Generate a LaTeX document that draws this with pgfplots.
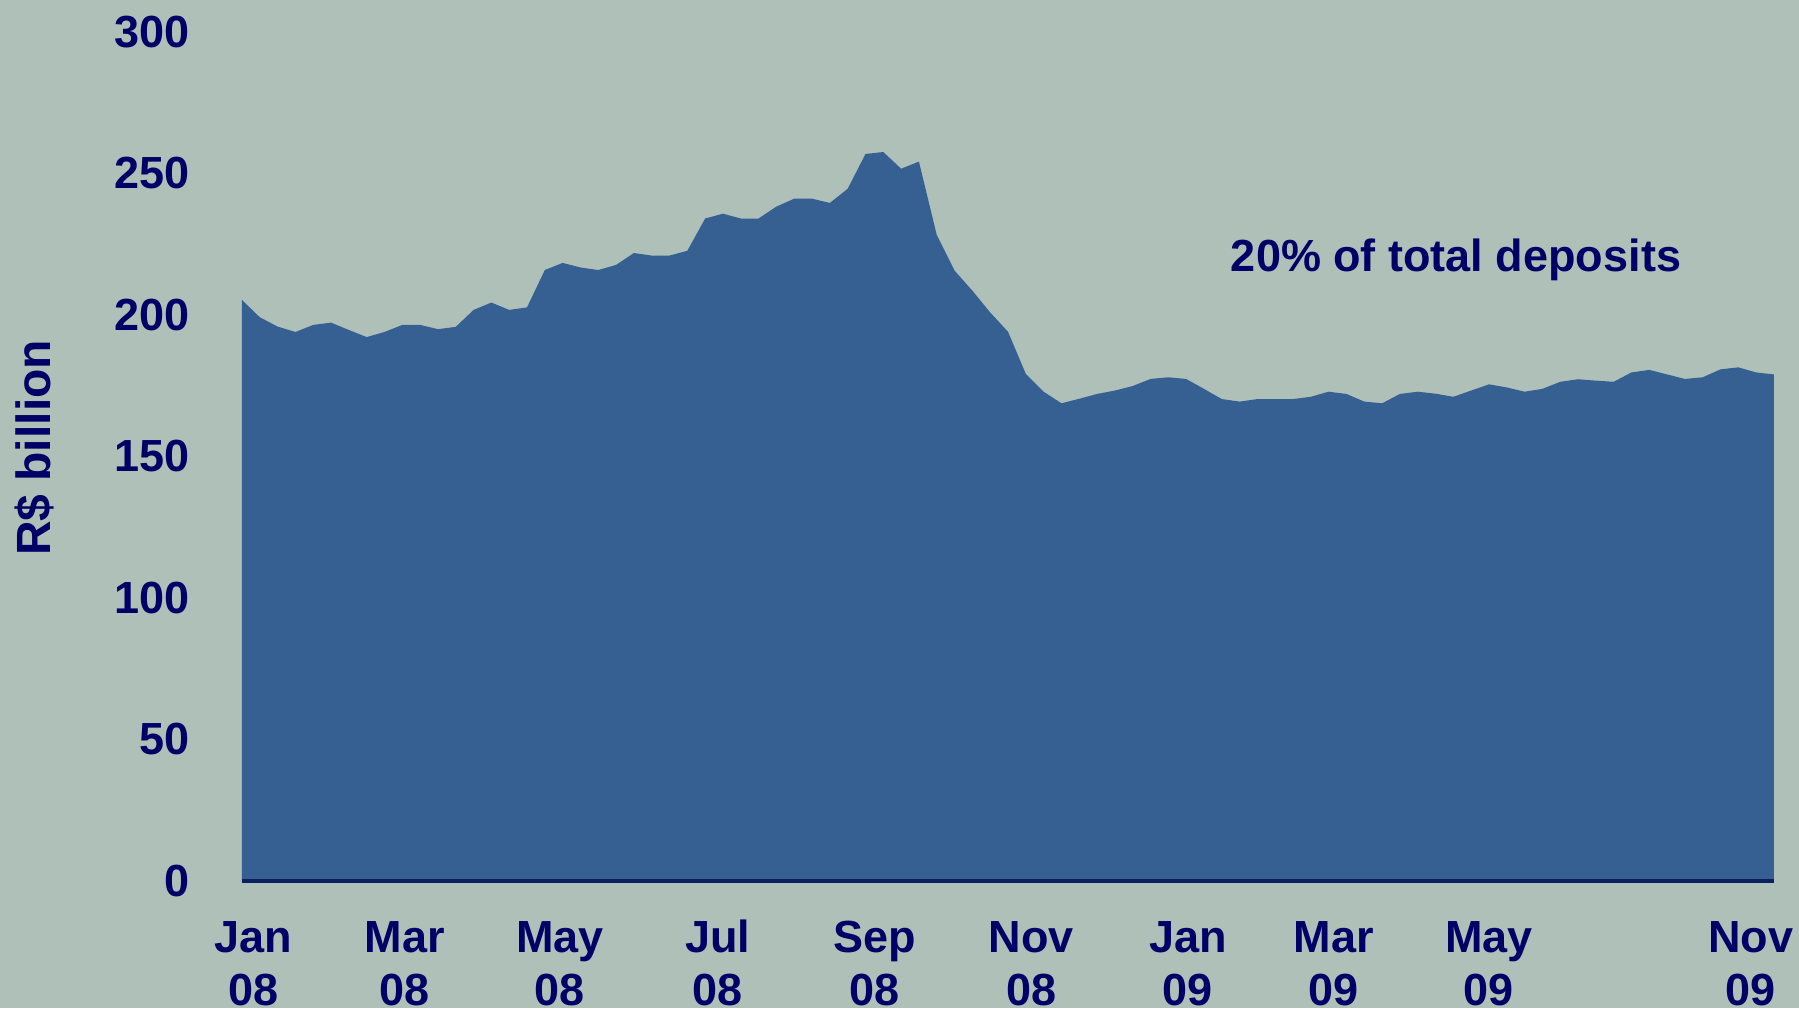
\documentclass[border=0pt]{standalone}
\usepackage{pgfplots}
\pgfplotsset{compat=1.18}
\usepackage{fontspec}
\setmainfont{Liberation Sans}
\definecolor{bgcol}{RGB}{174,192,184}
\definecolor{areacol}{RGB}{54,96,146}
\definecolor{txtcol}{RGB}{0,0,102}
\definecolor{basecol}{RGB}{10,32,96}
\pgfplotstableread{
x y
0 205.3
1 199.2
2 195.9
3 194.0
4 196.5
5 197.3
6 194.7
7 192.2
8 194.0
9 196.5
10 196.5
11 195.0
12 195.8
13 201.8
14 204.4
15 201.8
16 202.7
17 215.9
18 218.4
19 216.8
20 215.9
21 217.7
22 221.9
23 221.0
24 221.0
25 222.7
26 234.1
27 235.8
28 234.1
29 234.1
30 238.3
31 241.1
32 241.1
33 239.6
34 244.6
35 256.9
36 257.6
37 251.7
38 254.2
39 228.3
40 215.7
41 208.6
42 200.9
43 194.1
44 179.2
45 172.9
46 168.8
47 170.4
48 172.1
49 173.3
50 174.9
51 177.4
52 178.0
53 177.4
54 173.9
55 170.3
56 169.4
57 170.3
58 170.3
59 170.3
60 171.1
61 172.9
62 172.1
63 169.4
64 168.8
65 172.1
66 172.9
67 172.2
68 171.1
69 173.3
70 175.5
71 174.4
72 172.9
73 173.9
74 176.4
75 177.3
76 176.8
77 176.4
78 179.7
79 180.6
80 179.0
81 177.4
82 178.0
83 180.8
84 181.5
85 179.7
86 179.0
}\deposits
\begin{document}
\begin{tikzpicture}
\fill[bgcol] (0,0) rectangle (449.75pt,252pt);
\useasboundingbox (0,0) rectangle (449.75pt,252pt);
\begin{axis}[
  at={(60.5pt,31.75pt)}, anchor=south west,
  scale only axis,
  width=383pt, height=212.25pt,
  xmin=0, xmax=86, ymin=0, ymax=300,
  axis line style={draw=none},
  major tick length=0pt,
  ytick={0,50,...,300},
  xtick={0.65,9.15,17.85,26.7,35.5,44.3,53.1,61.3,70.0,84.7},
  xticklabels={\vphantom{l}Jan\\08,\vphantom{l}Mar\\08,\vphantom{l}May\\08,\vphantom{l}Jul\\08,\vphantom{l}Sep\\08,\vphantom{l}Nov\\08,\vphantom{l}Jan\\09,\vphantom{l}Mar\\09,\vphantom{l}May\\09,\vphantom{l}Nov\\09},
  /pgf/number format/assume math mode=true,
  yticklabel style={font=\fontsize{11.25}{13.25}\selectfont\bfseries, text=txtcol, anchor=east, xshift=-9.5pt},
  xticklabel style={font=\fontsize{11.25}{13.25}\selectfont\bfseries, text=txtcol, align=center, anchor=north, yshift=-6.2pt},
  clip=false,
]
\addplot[fill=areacol, draw=none] table[x=x,y=y] {\deposits} \closedcycle;
\addplot[basecol, line width=0.8pt] coordinates {(0,0) (86,0)};
\end{axis}
\node[rotate=90, text=txtcol, font=\fontsize{12}{14}\selectfont\bfseries] at (8.5pt,140pt) {R\$ billion};
\node[text=txtcol, font=\fontsize{11.25}{13.25}\selectfont\bfseries] at (364pt,187.1pt) {20\% of total deposits};
\end{tikzpicture}
\end{document}
